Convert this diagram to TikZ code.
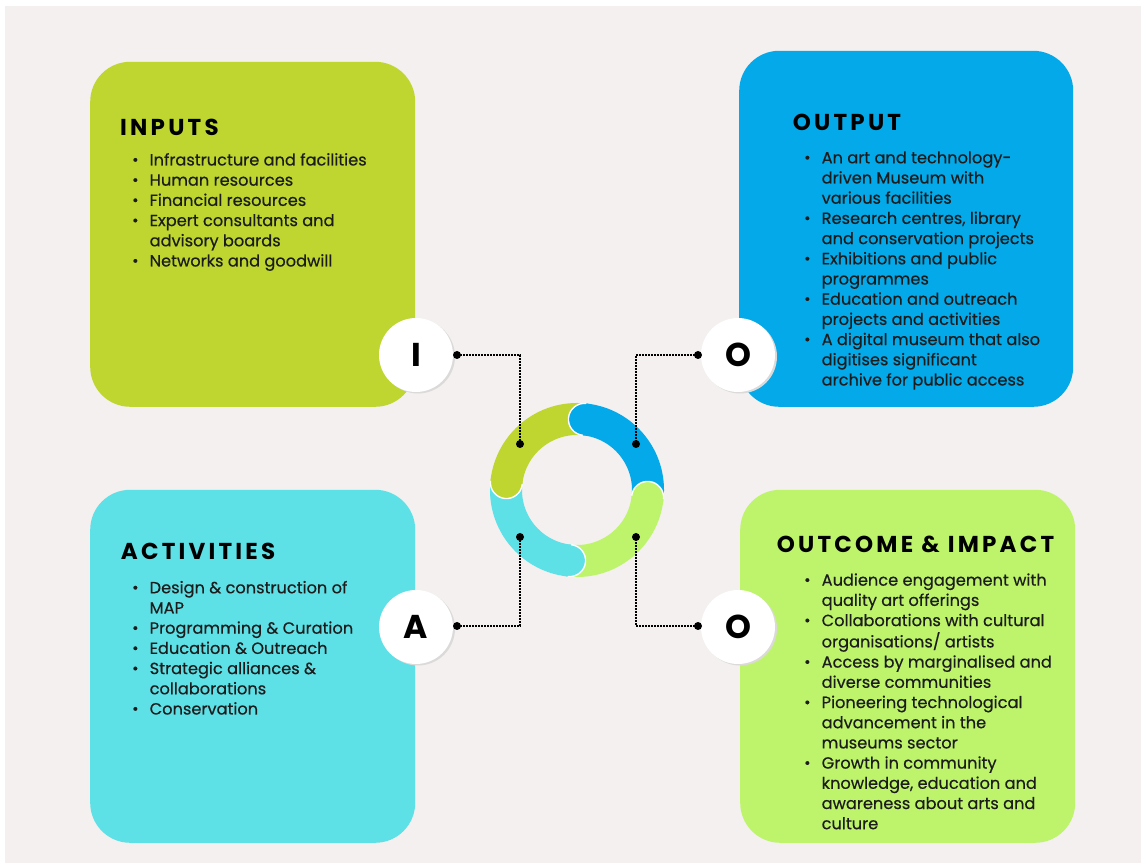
\documentclass[tikz,border=0pt]{standalone}
\usepackage{fontspec}
\setmainfont{Poppins}[FakeBold=0.4]
\newfontfamily\headfont{Poppins}[LetterSpace=14]
\newfontfamily\letterfont{Poppins}
\usetikzlibrary{calc,shadows}
\definecolor{bg}{HTML}{F3F0EF}
\definecolor{cin}{HTML}{BED62F}
\definecolor{cout}{HTML}{03A9E8}
\definecolor{cact}{HTML}{5DE0E6}
\definecolor{coc}{HTML}{BEF46B}
\definecolor{txt}{HTML}{1C1C1C}
\definecolor{shade}{HTML}{DCD9D9}
\newcommand{\bul}{\makebox[17.5pt][l]{\raisebox{0.05ex}{\scalebox{0.95}{\textbullet}}}}
\newcommand{\ind}{\hspace*{17.5pt}}
\begin{document}
\begin{tikzpicture}[x=1pt,y=1pt,
  box/.style={rounded corners=40pt, inner sep=0pt, anchor=south west},
  letter/.style={circle, fill=white, minimum size=74pt, inner sep=0pt, text=black,
     font=\letterfont\bfseries\fontsize{33}{33}\selectfont,
     general shadow={fill=shade, shadow xshift=2pt, shadow yshift=-1.5pt}},
  head/.style={anchor=base west, inner sep=0pt, text=black, font=\headfont\bfseries\fontsize{23}{23}\selectfont},
  body/.style={anchor=base west, inner sep=0pt, text=txt, font=\fontsize{16.2}{20.2}\selectfont},
  dot/.style={circle, fill=black, minimum size=8pt, inner sep=0pt},
  conn/.style={line width=1.8pt, dash pattern=on 1.6pt off 1.4pt, black}
]
\useasboundingbox (0,0) rectangle (1141,863);
\fill[white] (0,0) rectangle (1141,863);
\fill[bg] (5,0) rectangle (1141,857);

% boxes
\node[box, fill=cin, minimum width=325pt, minimum height=345pt] (inbox) at (90,456) {};
\node[box, fill=cout, minimum width=334pt, minimum height=356pt] (outbox) at (739,456) {};
\node[box, fill=cact, minimum width=325pt, minimum height=353pt] (actbox) at (90,20) {};
\node[box, fill=coc, minimum width=335pt, minimum height=353pt] (ocbox) at (740,20) {};

% ring
\coordinate (rc) at (577,373);
\draw[cin, line width=32pt] ($(rc)+(84:71)$) arc[start angle=84, end angle=174, radius=71];
\draw[cact, line width=32pt] ($(rc)+(174:71)$) arc[start angle=174, end angle=264, radius=71];
\draw[coc, line width=32pt] ($(rc)+(264:71)$) arc[start angle=264, end angle=354, radius=71];
\draw[cout, line width=32pt] ($(rc)+(354:71)$) arc[start angle=354, end angle=444, radius=71];
\foreach \a/\c in {174/cin, 264/cact, 354/coc, 84/cout}{
  \fill[\c] ($(rc)+(\a:71)$) circle[radius=16];
  \draw[white, line width=1.4pt] ($(rc)+(\a:87)$) arc[start angle=\a, delta angle=180, radius=16];
}

% letter circles
\node[letter] (cI) at (416,508) {I};
\node[letter] (cO1) at (738,508) {O};
\node[letter] (cA) at (416,236) {A};
\node[letter] (cO2) at (738,236) {O};

% dots
\node[dot] (dI) at (457,508) {};
\node[dot] (dO1) at (698,508) {};
\node[dot] (dA) at (457,237) {};
\node[dot] (dO2) at (698,237) {};
\node[dot] (rg) at (520,419) {};
\node[dot] (rb) at (636,419) {};
\node[dot] (rc2) at (520,326) {};
\node[dot] (rl) at (636,326) {};

\draw[conn] (dI.center) -| (rg.center);
\draw[conn] (dO1.center) -| (rb.center);
\draw[conn] (dA.center) -| (rc2.center);
\draw[conn] (dO2.center) -| (rl.center);

% headings
\node[head] (hin) at (120,727.3) {INPUTS};
\node[head] (hout) at (792.7,732.3) {OUTPUT};
\node[head] (hact) at (120.7,303) {ACTIVITIES};
\node[head] (hoc) at (776.7,310.7) {OUTCOME \& IMPACT};

% bodies
\node[body] (tin) at (132,697.5) {\begin{tabular}[t]{@{}l@{}}
\bul Infrastructure and facilities\\
\bul Human resources\\
\bul Financial resources\\
\bul Expert consultants and\\
\ind advisory boards\\
\bul Networks and goodwill
\end{tabular}};
\node[body] (tout) at (804,699.7) {\begin{tabular}[t]{@{}l@{}}
\bul An art and technology-\\
\ind driven Museum with\\
\ind various facilities\\
\bul Research centres, library\\
\ind and conservation projects\\
\bul Exhibitions and public\\
\ind programmes\\
\bul Education and outreach\\
\ind projects and activities\\
\bul A digital museum that also\\
\ind digitises significant\\
\ind archive for public access
\end{tabular}};
\node[body] (tact) at (132,269.7) {\begin{tabular}[t]{@{}l@{}}
\bul Design \& construction of\\
\ind MAP\\
\bul Programming \& Curation\\
\bul Education \& Outreach\\
\bul Strategic alliances \&\\
\ind collaborations\\
\bul Conservation
\end{tabular}};
\node[body] (toc) at (804,277.3) {\begin{tabular}[t]{@{}l@{}}
\bul Audience engagement with\\
\ind quality art offerings\\
\bul Collaborations with cultural\\
\ind organisations/ artists\\
\bul Access by marginalised and\\
\ind diverse communities\\
\bul Pioneering technological\\
\ind advancement in the\\
\ind museums sector\\
\bul Growth in community\\
\ind knowledge, education and\\
\ind awareness about arts and\\
\ind culture
\end{tabular}};
\end{tikzpicture}
\end{document}
